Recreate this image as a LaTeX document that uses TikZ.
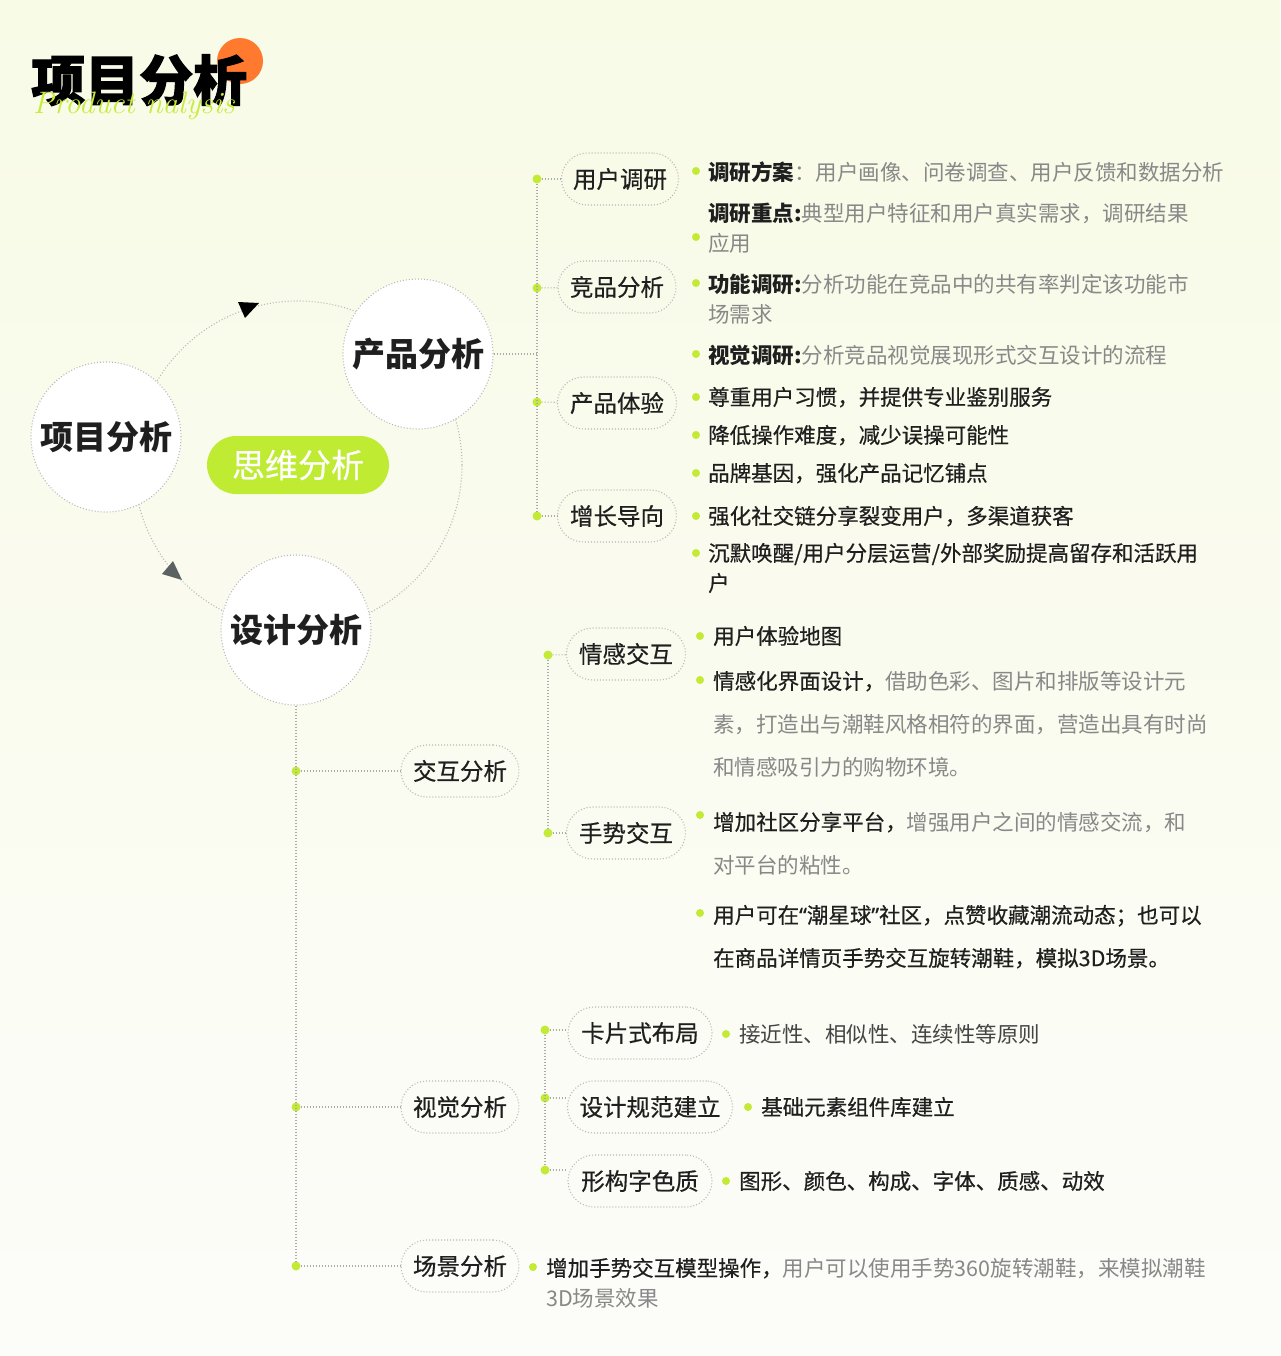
\documentclass[tikz,border=0pt]{standalone}
\usepackage{fontspec}
\setmainfont{Noto Sans CJK SC}
\newfontfamily\titlefont{Noto Sans CJK SC}[BoldFeatures={FakeBold=2}]
\newfontfamily\medf{Noto Sans CJK SC}[FakeBold=0.5]
\newfontfamily\quotef{Noto Sans}[FakeBold=0.5]
\newfontfamily\scriptfnt{Latin Modern Roman}
\definecolor{bgtop}{HTML}{F8FBE6}
\definecolor{bgbot}{HTML}{FCFCF9}
\definecolor{dark}{HTML}{1F1F1F}
\definecolor{txtgray}{HTML}{888888}
\definecolor{midgray}{HTML}{444444}
\definecolor{linegray}{HTML}{ABABAB}
\definecolor{circgray}{HTML}{B8B8B8}
\definecolor{dotgreen}{HTML}{C3EA35}
\definecolor{pillgreen}{HTML}{BFEB33}
\definecolor{orangec}{HTML}{FF7A2F}
\definecolor{scriptgreen}{HTML}{C6EC3A}
\definecolor{arrowgray}{HTML}{5C6262}
\tikzset{
  dotline/.style={draw=linegray, line width=1.1pt, dash pattern=on 1pt off 2pt},
  gdot/.style={circle, fill=dotgreen, inner sep=0pt, minimum size=9pt},
  bdot/.style={circle, fill=dotgreen, inner sep=0pt, minimum size=8pt},
  bigcirc/.style={circle, fill=white, draw=circgray, line width=1.1pt, dash pattern=on 1pt off 2pt,
    minimum size=150pt, inner sep=0pt, text=dark,
    font=\fontsize{33}{33}\selectfont\bfseries, text height=27pt, text depth=2pt},
  mindpill/.style={fill=pillgreen, rounded corners=29pt, minimum width=182pt, minimum height=58pt,
    inner sep=0pt, text=white, font=\medf\fontsize{33}{33}\selectfont, text height=27pt, text depth=2pt},
  pill/.style={draw=circgray, line width=1.1pt, dash pattern=on 1pt off 2pt, rounded corners=26pt,
    minimum height=52pt, inner sep=0pt, text=dark,
    font=\medf\fontsize{23.5}{23.5}\selectfont, text height=19.5pt, text depth=1.6pt},
  txt/.style={anchor=west, inner sep=0pt, text=dark,
    font=\medf\fontsize{21.5}{21.5}\selectfont, text height=17.8pt, text depth=1.5pt},
}
\newcommand{\gr}[1]{{\normalfont\color{txtgray}#1}}
\newcommand{\bp}[1]{{\normalfont\bfseries #1}}
\begin{document}
\begin{tikzpicture}[x=1pt,y=-1pt]
\shade[top color=bgtop, bottom color=bgbot] (0,0) rectangle (1280,1356);
\useasboundingbox (0,0) rectangle (1280,1356);

% title
\fill[orangec] (240,61) circle[radius=23pt];
\node[anchor=west, inner sep=0pt, text=black, font=\titlefont\bfseries\fontsize{54}{54}\selectfont,
  text height=44.8pt, text depth=3.8pt] (title) at (31,80) {项目分析};
\node[anchor=base west, inner sep=0pt, text=scriptgreen, font=\scriptfnt\itshape\fontsize{31}{31}\selectfont]
  (subtitle) at (33,114) {Product nalysis};

% cycle
\coordinate (mc) at (298,465);
\draw[dotline, draw=circgray] (mc) circle[radius=164pt];
\node[bigcirc] (xm) at (106,437) {项目分析};
\node[bigcirc] (pa) at (418,354) {产品分析};
\node[bigcirc] (da) at (296,630) {设计分析};
\node[mindpill] (mind) at (mc) {思维分析};
\fill[black] (238,302) -- (259,303) -- (245,318) -- cycle;
\fill[arrowgray] (162,574) -- (173,561) -- (182,580) -- cycle;

% product tree
\coordinate (rj) at (537,354);
\node[gdot] (r1) at (537,179) {};
\node[gdot] (r2) at (537,288) {};
\node[gdot] (r3) at (537,402) {};
\node[gdot] (r4) at (537,516) {};
\node[pill, minimum width=117pt] (p1) at (620,179) {用户调研};
\node[pill, minimum width=118pt] (p2) at (617,287) {竞品分析};
\node[pill, minimum width=119pt] (p3) at (617,403) {产品体验};
\node[pill, minimum width=119pt] (p4) at (617,516) {增长导向};
\draw[dotline] (r1) -- (r4);
\draw[dotline] (pa) -- (rj);
\draw[dotline] (r1) -- (p1);
\draw[dotline] (r2) -- (p2);
\draw[dotline] (r3) -- (p3);
\draw[dotline] (r4) -- (p4);

% product texts
\node[bdot] (b1) at (696,171) {};
\node[bdot] (b2) at (696,237) {};
\node[bdot] (b3) at (696,283) {};
\node[bdot] (b4) at (696,354) {};
\node[bdot] (b5) at (696,397) {};
\node[bdot] (b6) at (696,435) {};
\node[bdot] (b7) at (696,473) {};
\node[bdot] (b8) at (696,516) {};
\node[bdot] (b9) at (696,553) {};
\node[txt] (t1) at (708,172) {\bp{调研方案}\gr{：用户画像、问卷调查、用户反馈和数据分析}};
\node[txt] (t2) at (708,213) {\bp{调研重点:}\gr{典型用户特征和用户真实需求，调研结果}};
\node[txt] (t3) at (708,243) {\gr{应用}};
\node[txt] (t4) at (708,284) {\bp{功能调研:}\gr{分析功能在竞品中的共有率判定该功能市}};
\node[txt] (t5) at (708,314) {\gr{场需求}};
\node[txt] (t6) at (708,355) {\bp{视觉调研:}\gr{分析竞品视觉展现形式交互设计的流程}};
\node[txt] (t7) at (708,397) {尊重用户习惯，并提供专业鉴别服务};
\node[txt] (t8) at (708,435) {降低操作难度，减少误操可能性};
\node[txt] (t9) at (708,473) {品牌基因，强化产品记忆铺点};
\node[txt] (t10) at (708,516) {强化社交链分享裂变用户，多渠道获客};
\node[txt] (t11) at (708,553) {沉默唤醒/用户分层运营/外部奖励提高留存和活跃用};
\node[txt] (t12) at (708,583) {户};

% design tree
\node[gdot] (e1) at (296,771) {};
\node[gdot] (e2) at (296,1107) {};
\node[gdot] (e3) at (296,1266) {};
\node[pill, minimum width=118pt] (q1) at (460,771) {交互分析};
\node[pill, minimum width=118pt] (q2) at (460,1107) {视觉分析};
\node[pill, minimum width=118pt] (q3) at (460,1266) {场景分析};
\draw[dotline] (da) -- (e3);
\draw[dotline] (e1) -- (q1);
\draw[dotline] (e2) -- (q2);
\draw[dotline] (e3) -- (q3);

% interaction subtree
\node[gdot] (f1) at (548,655) {};
\node[gdot] (f2) at (548,833) {};
\node[pill, minimum width=119pt] (s1) at (626,654) {情感交互};
\node[pill, minimum width=119pt] (s2) at (626,833) {手势交互};
\draw[dotline] (f1) -- (f2);
\draw[dotline] (f1) -- (s1);
\draw[dotline] (f2) -- (s2);

\node[bdot] (c1) at (700,636) {};
\node[bdot] (c2) at (700,680) {};
\node[bdot] (c3) at (700,815) {};
\node[bdot] (c4) at (700,913) {};
\node[txt] (u1) at (713,636) {用户体验地图};
\node[txt] (u2) at (713,681) {情感化界面设计，\gr{借助色彩、图片和排版等设计元}};
\node[txt] (u3) at (713,724) {\gr{素，打造出与潮鞋风格相符的界面，营造出具有时尚}};
\node[txt] (u4) at (713,767) {\gr{和情感吸引力的购物环境。}};
\node[txt] (u5) at (713,822) {增加社区分享平台，\gr{增强用户之间的情感交流，和}};
\node[txt] (u6) at (713,865) {\gr{对平台的粘性。}};
\node[txt] (u7) at (713,915) {用户可在{\quotef “}潮星球{\quotef ”}社区，点赞收藏潮流动态；也可以};
\node[txt] (u8) at (713,958) {在商品详情页手势交互旋转潮鞋，模拟3D场景。};

% visual subtree
\node[gdot] (g1) at (545,1030) {};
\node[gdot] (g2) at (545,1098) {};
\node[gdot] (g3) at (545,1170) {};
\node[pill, minimum width=144pt] (k1) at (640,1033) {卡片式布局};
\node[pill, minimum width=165pt] (k2) at (650,1107) {设计规范建立};
\node[pill, minimum width=144pt] (k3) at (640,1181) {形构字色质};
\draw[dotline] (g1) -- (g3);
\draw[dotline] (g1) -- (g1 -| k1.west);
\draw[dotline] (g2) -- (g2 -| k2.west);
\draw[dotline] (g3) -- (g3 -| k3.west);

\node[bdot] (h1) at (726,1034) {};
\node[bdot] (h2) at (748,1107) {};
\node[bdot] (h3) at (726,1181) {};
\node[txt, text=midgray] (v1) at (739,1034) {\normalfont 接近性、相似性、连续性等原则};
\node[txt] (v2) at (761,1107) {基础元素组件库建立};
\node[txt] (v3) at (739,1181) {图形、颜色、构成、字体、质感、动效};

% scene
\node[bdot] (h4) at (533,1267) {};
\node[txt] (w1) at (546,1268) {增加手势交互模型操作，\gr{用户可以使用手势360旋转潮鞋，来模拟潮鞋}};
\node[txt] (w2) at (546,1298) {\gr{3D场景效果}};
\end{tikzpicture}
\end{document}
